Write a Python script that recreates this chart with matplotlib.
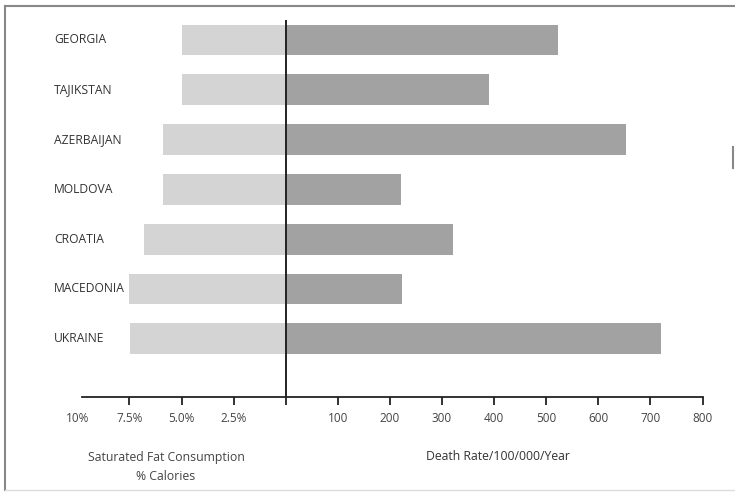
import matplotlib
matplotlib.use("Agg")
from matplotlib import pyplot as plt
from matplotlib.lines import Line2D

plt.rcParams['font.family'] = ['Open Sans', 'DejaVu Sans']

countries = ["GEORGIA", "TAJIKSTAN", "AZERBAIJAN", "MOLDOVA", "CROATIA", "MACEDONIA", "UKRAINE"]
fat_pct = [5.0, 5.0, 5.9, 5.9, 6.8, 7.5, 7.45]          # % calories
death_rate = [522, 391, 654, 222, 321, 224, 721]        # per 100,000 / year

left_ticks = [10, 7.5, 5.0, 2.5]
left_labels = ["10%", "7.5%", "5.0%", "2.5%"]
right_ticks = [100, 200, 300, 400, 500, 600, 700, 800]

# 2.5 % on the left side takes the same width as 100 on the right
PCT_SCALE = 40

W, H = 735, 493
fig = plt.figure(figsize=(W / 100, H / 100), dpi=100)

# axes placed in pixel terms: zero line at x=285.7, 0.522 px per unit
x0_px, px_per_unit = 285.7, 0.521
ax_left_px, ax_right_px = 40, 725
ax_top_px, ax_bot_px = 20, 396.5
ax = fig.add_axes([ax_left_px / W, 1 - ax_bot_px / H,
                   (ax_right_px - ax_left_px) / W, (ax_bot_px - ax_top_px) / H])
ax.set_xlim((ax_left_px - x0_px) / px_per_unit, (ax_right_px - x0_px) / px_per_unit)
row_px = 49.8
first_px = 40
ax.set_ylim((ax_bot_px - first_px) / row_px, (ax_top_px - first_px) / row_px)

ypos = list(range(len(countries)))
ax.barh(ypos, [-p * PCT_SCALE for p in fat_pct], height=0.62, color="#d4d4d4", linewidth=0)
ax.barh(ypos, death_rate, height=0.62, color="#a2a2a2", linewidth=0)
ax.axvline(0, color="#222222", linewidth=1.4)

label_x = (54 - x0_px) / px_per_unit
for y, name in zip(ypos, countries):
    ax.text(label_x, y, name, ha="left", va="center", fontsize=8.7, color="#333333")

for s in ["top", "right", "left"]:
    ax.spines[s].set_visible(False)
ax.spines["bottom"].set_bounds((82 - x0_px) / px_per_unit, 800)
ax.spines["bottom"].set_color("#222222")
ax.spines["bottom"].set_linewidth(1.3)

ticks = [-t * PCT_SCALE for t in left_ticks] + [0] + right_ticks
labels = left_labels + [""] + [str(t) for t in right_ticks]
ax.set_xticks(ticks)
ax.set_xticklabels(labels, fontsize=8.5, color="#444444")
ax.tick_params(axis="x", length=6, width=1.3, color="#222222", pad=5)
ax.xaxis.get_major_ticks()[0].tick1line.set_visible(False)
ax.set_yticks([])

fig.text(166 / W, 1 - 457 / H, "Saturated Fat Consumption", ha="center", va="center",
         fontsize=8.8, color="#444444")
fig.text(166 / W, 1 - 477 / H, "% Calories", ha="center", va="center",
         fontsize=8.8, color="#444444")
fig.text(498 / W, 1 - 457 / H, "Death Rate/100/000/Year", ha="center", va="center",
         fontsize=8.8, color="#333333")

# scanned page frame
frame = dict(color="#888888", linewidth=1.5, transform=fig.transFigure)
fig.add_artist(Line2D([5 / W, 1], [1 - 6 / H, 1 - 6 / H], **frame))
fig.add_artist(Line2D([5 / W, 5 / W], [1 - 6 / H, 1 - 490 / H], **frame))
fig.add_artist(Line2D([5 / W, 1], [1 - 490 / H, 1 - 490 / H], color="#dddddd",
                      linewidth=1, transform=fig.transFigure))
fig.add_artist(Line2D([733 / W, 733 / W], [1 - 147 / H, 1 - 168 / H], **frame))

fig.savefig("out.png", dpi=100)
